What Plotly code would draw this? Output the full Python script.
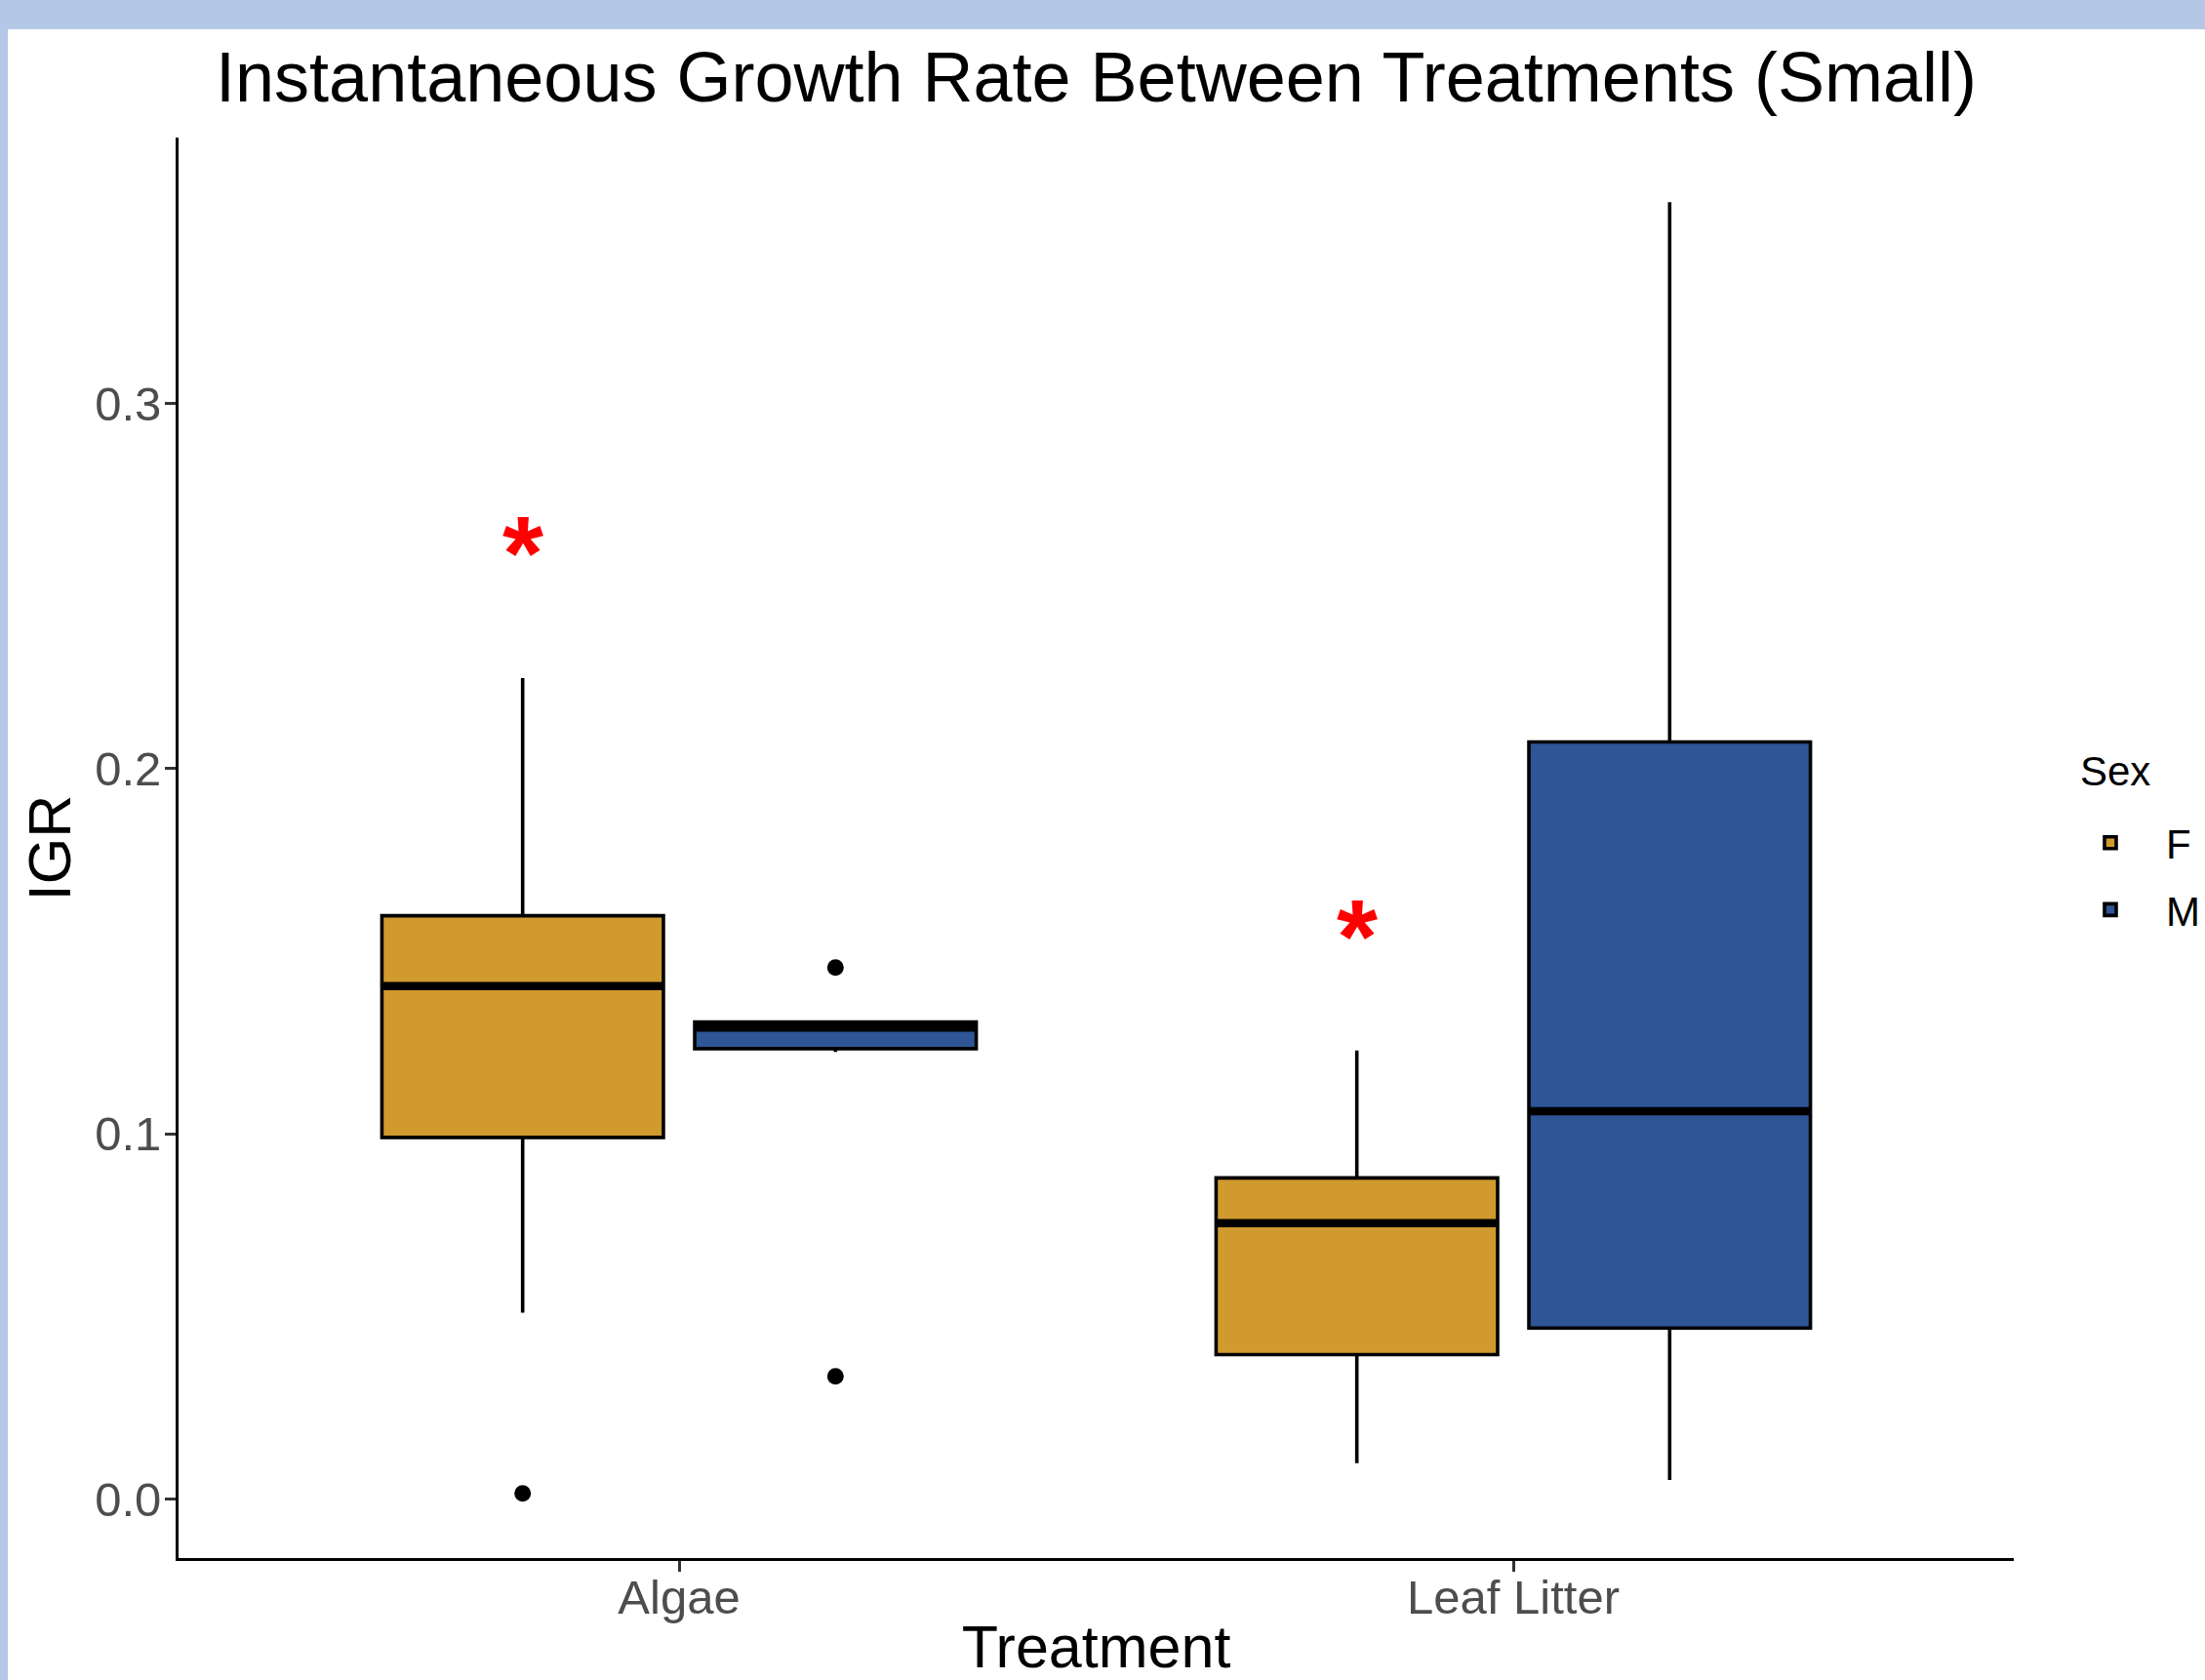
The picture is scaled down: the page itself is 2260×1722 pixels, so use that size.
import plotly.graph_objects as go

# ---------------- data ----------------
categories = ["Algae", "Leaf Litter"]

F_lower = [0.0510, 0.0098]
F_q1 = [0.0990, 0.0395]
F_median = [0.1404, 0.0755]
F_q3 = [0.1597, 0.0879]
F_upper = [0.2248, 0.1228]

M_lower = [0.1224, 0.0052]
M_q1 = [0.1233, 0.0468]
M_median = [0.1291, 0.1062]
M_q3 = [0.1306, 0.2073]
M_upper = [0.1306, 0.3551]

F_outlier_cat = ["Algae"]
F_outlier_val = [0.0015]
M_outlier_cat = ["Algae", "Algae"]
M_outlier_val = [0.1455, 0.0336]

star_cat = ["Algae", "Leaf Litter"]
star_val = [0.2620, 0.1571]

sexes = ["F", "M"]
legend_title = "Sex"

# ---------------- styles ----------------
GOLD = "#D09A2E"
BLUE = "#2E5596"
BAND = "#B4C7E7"
FONT = "Liberation Sans, Arial, sans-serif"
W, H = 2260, 1722
ML, MR, MT, MB = 183, 196, 141, 125
BOXGAP, BOXGROUPGAP = 0.25, 0.10
LW, MEDW = 3.6, 8.5

fig = go.Figure()

stats = {
    "F": (F_lower, F_q1, F_median, F_q3, F_upper, F_outlier_cat, F_outlier_val, GOLD),
    "M": (M_lower, M_q1, M_median, M_q3, M_upper, M_outlier_cat, M_outlier_val, BLUE),
}

for s in sexes:
    lo, q1, med, q3, up, ocat, oval, col = stats[s]
    fig.add_trace(go.Box(
        x=categories, q1=q1, median=med, q3=q3, lowerfence=lo, upperfence=up,
        name=s, fillcolor=col, line=dict(color="black", width=LW),
        whiskerwidth=0, boxpoints=False, offsetgroup=s, legendgroup=s,
        hoverinfo="skip",
    ))
    # thick median line overlay
    fig.add_trace(go.Box(
        x=categories, q1=med, median=med, q3=med, lowerfence=med, upperfence=med,
        name=s, fillcolor="rgba(0,0,0,0)", line=dict(color="black", width=MEDW),
        whiskerwidth=0, boxpoints=False, offsetgroup=s, legendgroup=s,
        showlegend=False, hoverinfo="skip",
    ))
    # outliers
    fig.add_trace(go.Box(
        x=ocat, y=oval, name=s, boxpoints="all", jitter=0, pointpos=0,
        fillcolor="rgba(0,0,0,0)", line=dict(color="rgba(0,0,0,0)", width=0),
        marker=dict(color="black", size=17), whiskerwidth=0,
        offsetgroup=s, legendgroup=s, showlegend=False, hoverinfo="y",
    ))

# y range with ggplot-style 5% expansion
all_vals = F_lower + F_upper + M_lower + M_upper + F_outlier_val + M_outlier_val
vmin, vmax = min(all_vals), max(all_vals)
pad = 0.05 * (vmax - vmin)
yrange = [vmin - pad, vmax + pad]

# red asterisks over the F boxes
f_offset = -(1 - BOXGAP) / 4
STAR_SIZE = 108
for c, v in zip(star_cat, star_val):
    fig.add_annotation(
        x=categories.index(c) + f_offset, y=v, xref="x", yref="y",
        text="<b>*</b>", showarrow=False, yanchor="middle", xanchor="center",
        yshift=-0.10 * STAR_SIZE,
        font=dict(family=FONT, size=STAR_SIZE, color="#FF0000"),
    )

pw = W - ML - MR
ph = H - MT - MB
def px2x(px):
    return (px - ML) / pw
def py2y(py):
    return (H - MB - py) / ph

# legend title as text
fig.add_annotation(
    x=px2x(2130), y=py2y(790), xref="paper", yref="paper",
    text=legend_title, showarrow=False, xanchor="left", yanchor="middle",
    font=dict(family=FONT, size=42, color="black"),
)

# light-blue frame (top band and left strip)
fig.add_shape(type="rect", xref="paper", yref="paper",
              x0=px2x(0), x1=px2x(W), y0=py2y(30), y1=py2y(0),
              fillcolor=BAND, line=dict(width=0), layer="below")
fig.add_shape(type="rect", xref="paper", yref="paper",
              x0=px2x(0), x1=px2x(8), y0=py2y(H), y1=py2y(0),
              fillcolor=BAND, line=dict(width=0), layer="below")

fig.update_layout(
    width=W, height=H,
    margin=dict(l=ML, r=MR, t=MT, b=MB, pad=0, autoexpand=False),
    paper_bgcolor="white", plot_bgcolor="white",
    boxmode="group", boxgap=BOXGAP, boxgroupgap=BOXGROUPGAP,
    font=dict(family=FONT, color="black"),
    title=dict(text="Instantaneous Growth Rate Between Treatments (Small)",
               x=0.5, xref="paper", xanchor="center",
               y=1 - 79 / H, yref="container", yanchor="middle",
               font=dict(size=72, color="black", family=FONT)),
    legend=dict(
        font=dict(size=42, color="black"),
        x=px2x(2106), y=py2y(830), xanchor="left", yanchor="top",
        bgcolor="rgba(0,0,0,0)", traceorder="grouped", tracegroupgap=11,
        itemwidth=104,
    ),
    showlegend=True,
)

fig.update_xaxes(
    type="category", categoryorder="array", categoryarray=categories,
    range=[-0.6, len(categories) - 1 + 0.6], automargin=False,
    showline=True, linecolor="black", linewidth=2.8,
    ticks="outside", ticklen=11, tickwidth=2.6, tickcolor="#333333",
    tickfont=dict(size=49, color="#4D4D4D", family=FONT),
    showgrid=False, zeroline=False, ticklabelstandoff=-16,
    title=dict(text="Treatment", font=dict(size=61, color="black", family=FONT), standoff=24),
)
fig.update_yaxes(
    range=yrange, tickvals=[0.0, 0.1, 0.2, 0.3], ticktext=["0.0", "0.1", "0.2", "0.3"],
    automargin=False,
    showline=True, linecolor="black", linewidth=2.8,
    ticks="outside", ticklen=11, tickwidth=2.6, tickcolor="#333333",
    tickfont=dict(size=49, color="#4D4D4D", family=FONT),
    showgrid=False, zeroline=False, ticklabelstandoff=-6,
    title=dict(text="IGR", font=dict(size=61, color="black", family=FONT), standoff=5),
)

fig.write_html(
    "out.html",
    config={"displayModeBar": False},
    post_script="document.body.style.margin='0';document.documentElement.style.overflow='hidden';",
)
